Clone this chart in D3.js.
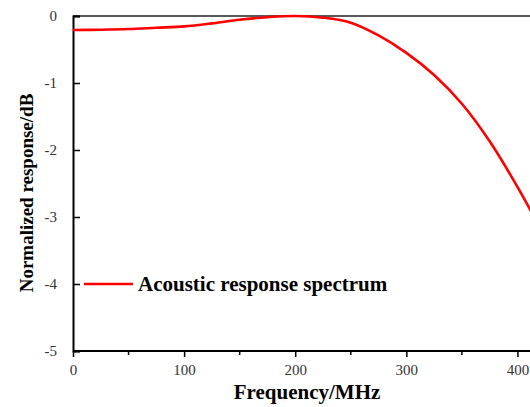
<!DOCTYPE html>
<html>
<head>
<meta charset="utf-8">
<script src="https://cdn.jsdelivr.net/npm/d3@7"></script>
<style>
  body { margin: 0; background: #fff; }
  svg { display: block; font-family: "Liberation Serif", "Times New Roman", serif; }
</style>
</head>
<body>
<div id="chart"></div>
<script>
// values
const freqMHz = [0, 25, 50, 75, 100, 125, 150, 175, 200, 225, 250, 275, 300, 325, 350, 375, 400, 415];
const responseDb = [-0.21, -0.205, -0.195, -0.175, -0.155, -0.11, -0.055, -0.018, 0, -0.025, -0.1, -0.29, -0.55, -0.88, -1.31, -1.87, -2.55, -3.0];
const xTicks = [0, 100, 200, 300, 400];
const xMinorTicks = [50, 150, 250, 350, 450];
const yTicks = [0, -1, -2, -3, -4, -5];
const seriesName = "Acoustic response spectrum";

const W = 530, H = 407;
const margin = { top: 16, left: 73, bottom: 56 };
const plotW = 500;
const plotH = H - margin.top - margin.bottom;

const svg = d3.select("#chart").append("svg")
  .attr("width", W)
  .attr("height", H)
  .attr("viewBox", `0 0 ${W} ${H}`);

const x = d3.scaleLinear().domain([0, 450]).range([margin.left, margin.left + plotW]);
const y = d3.scaleLinear().domain([-5, 0]).range([margin.top + plotH, margin.top]);

// plain hyphen minus like the original
const fmt = d => String(d);

// top frame line
svg.append("line")
  .attr("x1", margin.left).attr("x2", W + 5)
  .attr("y1", y(0)).attr("y2", y(0))
  .attr("stroke", "#222").attr("stroke-width", 1.6);

// x axis
const gx = svg.append("g")
  .attr("transform", `translate(0,${y(-5)})`)
  .call(d3.axisBottom(x).tickValues(xTicks).tickSize(6).tickPadding(7).tickFormat(fmt));
gx.select(".domain").attr("stroke-width", 2).attr("d", `M${margin.left},0H${W + 5}`);
gx.selectAll(".tick line").attr("stroke-width", 1.5);
gx.selectAll(".tick text").attr("font-size", 15).attr("font-family", "Liberation Serif").attr("fill", "#333");

svg.append("g")
  .attr("transform", `translate(0,${y(-5)})`)
  .selectAll("line")
  .data(xMinorTicks)
  .join("line")
  .attr("x1", d => x(d)).attr("x2", d => x(d))
  .attr("y1", 0).attr("y2", 4)
  .attr("stroke", "#000").attr("stroke-width", 1.5);

// y axis
const gy = svg.append("g")
  .attr("transform", `translate(${margin.left},0)`)
  .call(d3.axisLeft(y).tickValues(yTicks).tickSize(-7).tickPadding(16).tickFormat(fmt));
gy.select(".domain").attr("stroke-width", 2);
gy.selectAll(".tick line").attr("stroke-width", 1.5);
gy.selectAll(".tick text").attr("font-size", 15).attr("font-family", "Liberation Serif").attr("fill", "#333");

// axis titles
svg.append("text")
  .attr("x", 307).attr("y", 399)
  .attr("text-anchor", "middle")
  .attr("font-size", 21).attr("font-weight", "bold")
  .text("Frequency/MHz");

svg.append("text")
  .attr("transform", `translate(33,193) rotate(-90)`)
  .attr("text-anchor", "middle")
  .attr("font-size", 19).attr("font-weight", "bold")
  .text("Normalized response/dB");

// curve
const data = freqMHz.map((f, i) => ({ f, v: responseDb[i] }));
const line = d3.line()
  .x(d => x(d.f))
  .y(d => y(d.v))
  .curve(d3.curveCatmullRom.alpha(0.5));

svg.append("path")
  .datum(data)
  .attr("fill", "none")
  .attr("stroke", "#ff0000")
  .attr("stroke-width", 2.6)
  .attr("d", line);

// legend
svg.append("line")
  .attr("x1", 84).attr("x2", 133)
  .attr("y1", y(-4)).attr("y2", y(-4))
  .attr("stroke", "#ff0000").attr("stroke-width", 2.6);
svg.append("text")
  .attr("x", 138).attr("y", y(-4) + 7)
  .attr("font-size", 21).attr("font-weight", "bold")
  .text(seriesName);
</script>
</body>
</html>
